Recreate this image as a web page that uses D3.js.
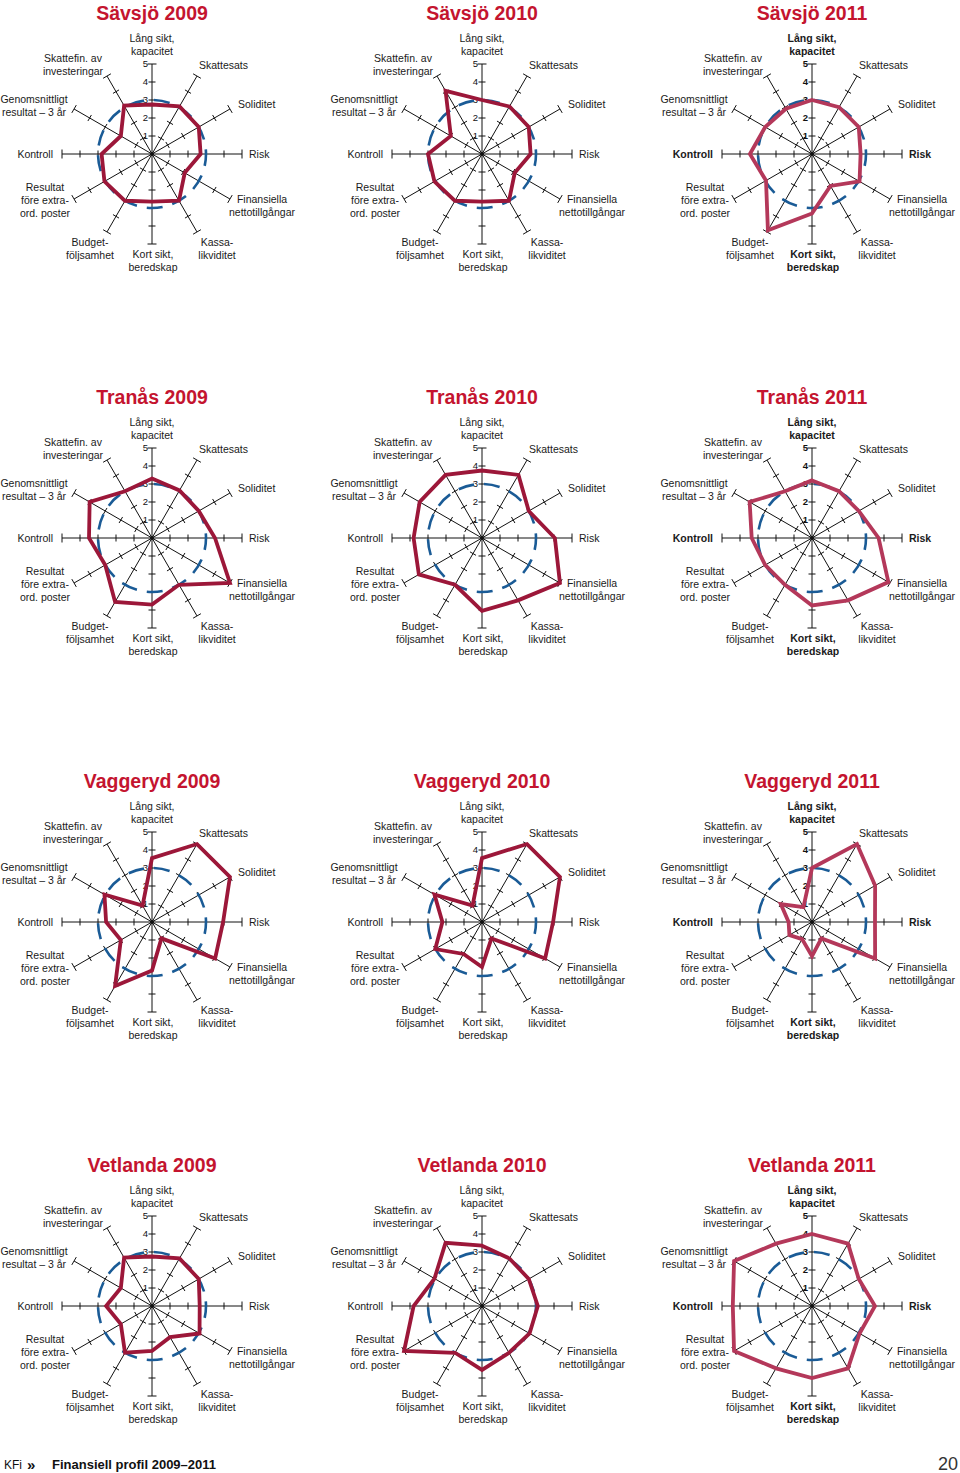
<!DOCTYPE html>
<html><head><meta charset="utf-8">
<script src="https://cdn.jsdelivr.net/npm/d3@7"></script>
<style>
html,body{margin:0;padding:0;background:#fff;}
svg{display:block;font-family:"Liberation Sans",Arial,sans-serif;}
</style></head><body>
<svg id="c" width="960" height="1473"></svg>
<script>
// ---- data ----
const municipalities = ["Sävsjö", "Tranås", "Vaggeryd", "Vetlanda"];
const years = ["2009", "2010", "2011"];
const axisLabels = [
  ["Lång sikt,", "kapacitet"],
  ["Skattesats"],
  ["Soliditet"],
  ["Risk"],
  ["Finansiella", "nettotillgångar"],
  ["Kassa-", "likviditet"],
  ["Kort sikt,", "beredskap"],
  ["Budget-", "följsamhet"],
  ["Resultat", "före extra-", "ord. poster"],
  ["Kontroll"],
  ["Genomsnittligt", "resultat – 3 år"],
  ["Skattefin. av", "investeringar"]
];
const tickLabels = ["1", "2", "3", "4", "5"];
const referenceLevel = 3;
const savsjo2009 = [2.75, 3.05, 3.0, 2.7, 2.1, 3.0, 2.65, 3.0, 3.05, 2.8, 2.0, 3.1];
const savsjo2010 = [3.0, 3.05, 3.0, 2.7, 2.1, 3.0, 2.65, 3.0, 3.05, 3.0, 2.0, 4.05];
const savsjo2011 = [3.0, 3.0, 3.0, 2.7, 3.05, 2.05, 3.3, 4.9, 2.95, 3.45, 3.0, 2.9];
const tranas2009 = [3.3, 3.05, 3.0, 3.5, 5.0, 3.0, 3.7, 4.1, 3.0, 3.5, 4.0, 3.0];
const tranas2010 = [3.75, 4.05, 3.0, 4.05, 5.0, 4.0, 4.05, 3.0, 4.05, 3.8, 4.0, 4.05];
const tranas2011 = [3.2, 3.0, 3.0, 3.7, 4.9, 4.0, 3.75, 3.0, 3.0, 3.35, 4.0, 3.0];
const vaggeryd2009 = [3.55, 5.0, 5.0, 3.95, 4.05, 1.05, 2.7, 4.1, 2.0, 2.55, 3.05, 1.05];
const vaggeryd2010 = [3.55, 5.0, 5.0, 3.95, 4.05, 1.05, 2.5, 2.05, 3.0, 2.2, 3.05, 1.05];
const vaggeryd2011 = [3.0, 5.0, 4.05, 3.5, 4.05, 1.05, 1.9, 1.1, 1.45, 1.3, 2.0, 0.95];
const vetlanda2009 = [2.75, 3.05, 3.0, 2.65, 3.05, 2.0, 2.5, 3.0, 2.0, 2.55, 2.0, 3.1];
const vetlanda2010 = [3.35, 3.05, 3.0, 3.1, 3.05, 3.0, 3.55, 3.0, 5.0, 3.8, 3.05, 4.05];
const vetlanda2011 = [4.0, 4.0, 3.0, 3.5, 3.05, 4.0, 4.0, 4.0, 5.0, 4.4, 5.0, 4.0];
const seriesGrid = [
  [savsjo2009, savsjo2010, savsjo2011],
  [tranas2009, tranas2010, tranas2011],
  [vaggeryd2009, vaggeryd2010, vaggeryd2011],
  [vetlanda2009, vetlanda2010, vetlanda2011]
];

// ---- layout / style ----
const svg = d3.select("#c");
const colX = [152, 482, 812];
const rowY = [154, 538, 922, 1306];
const r = d3.scaleLinear().domain([0, 5]).range([0, 90]);
const angle = d3.scaleLinear().domain([0, axisLabels.length]).range([0, 2 * Math.PI]);
const boldAxes = new Set([0, 3, 6, 9]);
const labelPos = [
  {dx: 0, ys: [-116, -103], a: "middle"},
  {dx: 47, ys: [-89], a: "start"},
  {dx: 86, ys: [-50], a: "start"},
  {dx: 97, ys: [0], a: "start"},
  {dx: 110, ys: [45, 58], a: "middle"},
  {dx: 65, ys: [88, 101], a: "middle"},
  {dx: 1, ys: [100, 113], a: "middle"},
  {dx: -62, ys: [88, 101], a: "middle"},
  {dx: -107, ys: [33, 46, 59], a: "middle"},
  {dx: -99, ys: [0], a: "end"},
  {dx: -118, ys: [-55, -42], a: "middle"},
  {dx: -79, ys: [-96, -83], a: "middle"}
];

function pt(i, v) {
  const a = angle(i);
  return [r(v) * Math.sin(a), -r(v) * Math.cos(a)];
}

seriesGrid.forEach((row, ri) => {
  row.forEach((vals, ci) => {
    const is2011 = ci === 2;
    const g = svg.append("g").attr("transform", `translate(${colX[ci]},${rowY[ri]})`);
    g.append("text").attr("x", 0).attr("y", -134).attr("text-anchor", "middle")
      .attr("font-size", 19.5).attr("font-weight", "bold").attr("fill", "#c4142f")
      .text(`${municipalities[ri]} ${years[ci]}`);
    axisLabels.forEach((lab, i) => {
      const a = angle(i);
      const [x5, y5] = pt(i, 5);
      g.append("line").attr("x1", 0).attr("y1", 0).attr("x2", x5).attr("y2", y5)
        .attr("stroke", "#111").attr("stroke-width", 1);
      const px = Math.cos(a), py = Math.sin(a);
      [1, 2, 3, 4, 5].forEach(t => {
        const [tx, ty] = pt(i, t);
        const h = t === 5 ? 4.5 : 3.5;
        g.append("line").attr("x1", tx - px * h).attr("y1", ty - py * h)
          .attr("x2", tx + px * h).attr("y2", ty + py * h)
          .attr("stroke", "#111").attr("stroke-width", 1);
      });
    });
    tickLabels.forEach((t, k) => {
      g.append("text").attr("x", -4).attr("y", -r(k + 1)).attr("dy", "0.36em")
        .attr("text-anchor", "end").attr("font-size", 9.5)
        .attr("font-weight", is2011 ? "bold" : "normal").attr("fill", "#111").text(t);
    });
    g.append("circle").attr("r", r(referenceLevel)).attr("fill", "none")
      .attr("stroke", "#1a5b96").attr("stroke-width", 2.6)
      .attr("stroke-dasharray", "16 10").attr("stroke-dashoffset", 4);
    const line = d3.lineRadial().angle((d, i) => angle(i)).radius(d => r(d)).curve(d3.curveLinearClosed);
    g.append("path").attr("d", line(vals)).attr("fill", "none")
      .attr("stroke", is2011 ? "#b4385a" : "#9c1739").attr("stroke-width", 3.8)
      .attr("stroke-linejoin", "miter");
    g.append("circle").attr("r", 2).attr("fill", "#111");
    axisLabels.forEach((lab, i) => {
      const p = labelPos[i];
      lab.forEach((s, k) => {
        g.append("text").attr("x", p.dx).attr("y", p.ys[k]).attr("dy", "0.35em")
          .attr("text-anchor", p.a).attr("font-size", 10.5)
          .attr("font-weight", is2011 && boldAxes.has(i) ? "bold" : "normal")
          .attr("fill", "#1a1a1a").text(s);
      });
    });
  });
});

// footer
svg.append("text").attr("x", 4).attr("y", 1469).attr("font-size", 12).attr("fill", "#111").text("KFi");
svg.append("text").attr("x", 27).attr("y", 1470).attr("font-size", 15).attr("font-weight", "bold").attr("fill", "#111").text("»");
svg.append("text").attr("x", 52).attr("y", 1469).attr("font-size", 13).attr("font-weight", "bold").attr("fill", "#111").text("Finansiell profil 2009–2011");
svg.append("text").attr("x", 958).attr("y", 1470).attr("text-anchor", "end").attr("font-size", 18).attr("fill", "#333").text("20");
</script>
</body></html>
